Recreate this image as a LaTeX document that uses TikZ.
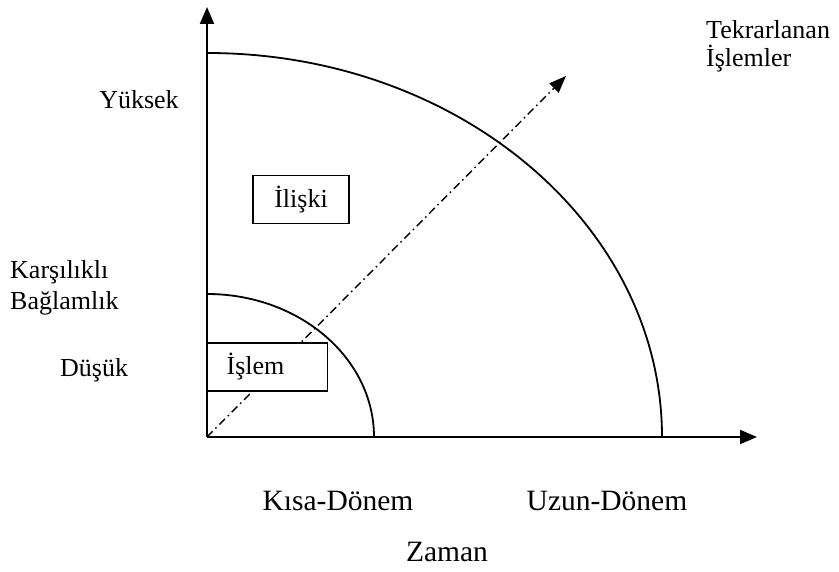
\documentclass[tikz,border=0pt]{standalone}
\usepackage{fontspec}
\setmainfont{Liberation Serif}
\usetikzlibrary{arrows.meta}
\tikzstyle{lbl}=[inner sep=0pt,align=left,font=\fontsize{26}{31}\selectfont]
\tikzstyle{tlbl}=[inner sep=0pt,font=\fontsize{29.5}{34}\selectfont]
\tikzstyle{kutu}=[draw=black,fill=white,line width=1.4pt,inner ysep=0pt,minimum height=48pt,font=\fontsize{26}{31}\selectfont]
\tikzstyle{eksen}=[-{Triangle[length=17pt,width=14pt]},line width=2pt]
\tikzstyle{yay}=[line width=1.8pt]
\tikzstyle{yon}=[-{Triangle[length=17pt,width=13pt]},line width=1.4pt,dash pattern=on 8pt off 4pt on 1.5pt off 4pt]

\begin{document}
\begin{tikzpicture}[x=1pt,y=1pt]
\useasboundingbox (0,0) rectangle (839,572);
\coordinate (O) at (207,135);
\coordinate (ytip) at (207,565);
\coordinate (xtip) at (757,135);
\coordinate (ks) at (374,135);
\coordinate (us) at (662,135);
\coordinate (ttip) at (566,496);
\draw[yay](ks) arc[start angle=0,end angle=90,x radius=167,y radius=143];
\draw[yay](us) arc[start angle=0,end angle=90,x radius=455,y radius=384];
\draw[yon](O)--(ttip);
\node[kutu,anchor=west,inner xsep=20pt,text width=81pt,align=left] (islem) at (206,205) {İşlem};
\node[kutu,minimum width=96pt] (iliski) at (301,372.5) {İlişki};
\draw[eksen](O)--(ytip);\draw[eksen](O)--(xtip);
\node[lbl] (yuksek) at (139,472) {Yüksek};
\node[lbl,anchor=west] (karsi) at (10,284.5) {Karşılıklı\\Bağlamlık};
\node[lbl,anchor=west] (dusuk) at (60,202) {Düşük};
\node[lbl,anchor=west,font=\fontsize{26}{28}\selectfont] (tekrar) at (706,526) {Tekrarlanan\\İşlemler};
\node[tlbl] (kisa) at (338,71) {Kısa-Dönem};
\node[tlbl] (uzun) at (607,71) {Uzun-Dönem};
\node[tlbl] (zaman) at (447,20) {Zaman};
\end{tikzpicture}
\end{document}
